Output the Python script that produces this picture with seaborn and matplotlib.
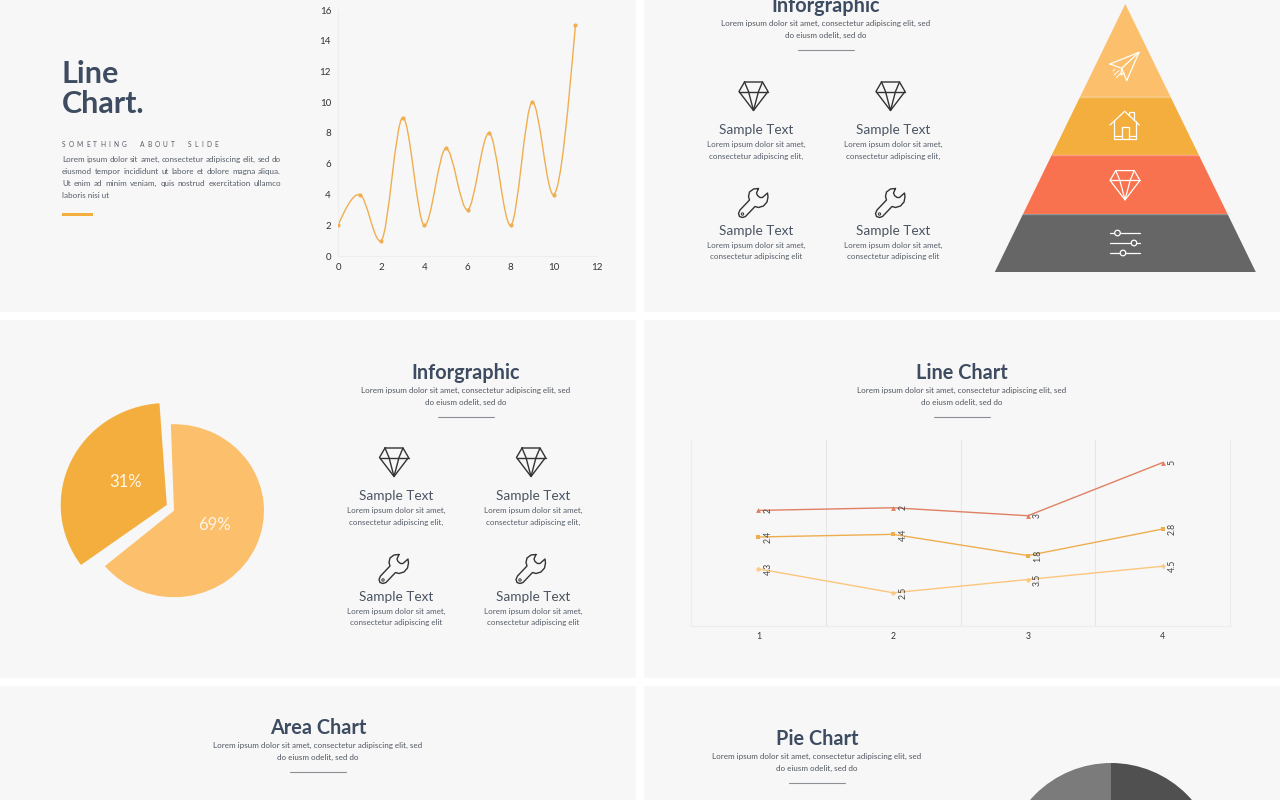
#!/usr/bin/env python3
# -*- coding: utf-8 -*-
"""
Slide template contact sheet: line charts, pie charts and infographic panels
"""

import numpy as np
import pandas as pd
import matplotlib
matplotlib.use('Agg')
import matplotlib.pyplot as plt
from matplotlib.path import Path
from matplotlib.patches import PathPatch, Rectangle, Polygon, Circle
import seaborn as sns

# Data
smooth_x = [0, 1, 2, 3, 4, 5, 6, 7, 8, 9, 10, 11]
smooth_y = [2, 4, 1, 9, 2, 7, 3, 8, 2, 10, 4, 15]

stack_cats = [1, 2, 3, 4]
stack_a = [4.3, 2.5, 3.5, 4.5]
stack_b = [2.4, 4.4, 1.8, 2.8]
stack_c = [2, 2, 3, 5]

# slice shares as drawn in the picture; the printed labels differ from them
pie_main_share = 64.5
pie_side_share = 33.9
pie_labels = ['69%', '31%']
bottom_pie_values = [50, 50]

LOREM_TOP = 'Lorem ipsum dolor sit amet, consectetur adipiscing elit, sed'
LOREM_BOT = 'do eiusm odelit, sed do'
PARAGRAPH = ['Lorem ipsum dolor sit amet, consectetur adipiscing elit, sed do',
             'eiusmod tempor incididunt ut labore et dolore magna aliqua.',
             'Ut enim ad minim veniam, quis nostrud exercitation ullamco',
             'laboris nisi ut']

# Colours
BG = '#f7f7f7'
NAVY = '#3e4c61'
TEXT = '#555c68'
LIGHT = '#fcbf6b'
ORANGE = '#f4ae3e'
RED = '#f8724f'
GREY = '#666666'
BODY = 5.8

sns.set_theme(style='white')
plt.rcParams['font.family'] = ['Lato', 'DejaVu Sans']

fig = plt.figure(figsize=(12.8, 8), dpi=100, facecolor='white')

# Canvas in pixel coordinates for the slide furniture
canvas = fig.add_axes([0, 0, 1, 1])
canvas.set_xlim(0, 1280)
canvas.set_ylim(800, 0)
canvas.axis('off')


def px_axes(x0, y0, x1, y1):
    """Axes placed by pixel corners (y measured from the top)"""
    ax = fig.add_axes([x0 / 1280, 1 - y1 / 800, (x1 - x0) / 1280, (y1 - y0) / 800])
    ax.patch.set_alpha(0)
    return ax


def txt(x, y, s, size=BODY, color=TEXT, ha='center', weight='normal', va='center', **kw):
    return canvas.text(x, y, s, fontsize=size, color=color, ha=ha, va=va,
                       fontweight=weight, **kw)


def justified(x0, x1, y, line, size=BODY):
    """Spread the words of a line between two x positions"""
    words = line.split()
    renderer = fig.canvas.get_renderer()
    items = [txt(x0, y + 3, w, size=size, ha='left', va='baseline') for w in words]
    widths = [t.get_window_extent(renderer).width for t in items]
    gap = (x1 - x0 - sum(widths)) / (len(words) - 1)
    x = x0
    for t, w in zip(items, widths):
        t.set_x(x)
        x += w + gap


def tracked(x0, x1, y, line, size, color):
    """Letter-spaced line between two x positions"""
    renderer = fig.canvas.get_renderer()
    items = [txt(x0, y, c, size=size, ha='left', color=color, va='baseline') for c in line]
    widths = [t.get_window_extent(renderer).width if c != ' ' else 2.0
              for t, c in zip(items, line)]
    gap = (x1 - x0 - sum(widths)) / (len(line) - 1)
    x = x0
    for t, w in zip(items, widths):
        t.set_x(x)
        x += w + gap


def draw(points, color, lw=1.0, closed=False):
    pts = np.array(points, dtype=float)
    if closed:
        pts = np.vstack([pts, pts[0]])
    canvas.plot(pts[:, 0], pts[:, 1], color=color, lw=lw, solid_joinstyle='round',
                solid_capstyle='round')


def diamond(cx, cy, color, k=1.0, lw=1.0):
    p = lambda x, y: (cx + x * k, cy + y * k)
    draw([p(-9, -14), p(9, -14), p(14.5, -4.5), p(0, 14.5), p(-14.5, -4.5)], color, lw, True)
    draw([p(-14.5, -4.5), p(14.5, -4.5)], color, lw)
    draw([p(-9, -14), p(-5, -4.5), p(0, 14.5), p(5, -4.5), p(9, -14)], color, lw)


def wrench(cx, cy, color='#333333', lw=1.0):
    shape = [(5, -14.5), (0, -14), (-4, -11), (-5, -6.5), (-4, -3), (-13.5, 7), (-15, 10.5),
             (-14, 13.5), (-11, 14.5), (-8, 13.5), (1.5, 3.5), (5, 4.5), (10, 3), (13.5, -1),
             (14.5, -6), (14, -10), (9, -5.5), (6.5, -5.5), (4, -7.5), (3, -10)]
    draw([(cx + x, cy + y) for x, y in shape], color, lw, True)
    canvas.add_patch(Circle((cx - 11, cy + 11), 1.2, fill=False, ec=color, lw=0.7))


def heading(cx, y, title, size=14.3):
    txt(cx, y + 1, title, size=size, color=NAVY, weight='bold')
    txt(cx, y + 18, LOREM_TOP, color='#50565f')
    txt(cx, y + 30, LOREM_BOT, color='#50565f')
    canvas.plot([cx - 28, cx + 28], [y + 45, y + 45], color='#8a8f96', lw=0.8)


def feature_grid(col_text, col_icon, title_rows, dia_y, wr_y):
    for tx, ix in zip(col_text, col_icon):
        diamond(ix, dia_y, '#333333')
        wrench(ix, wr_y)
        for ty, end in zip(title_rows, ['elit,', 'elit']):
            txt(tx, ty + 1, 'Sample Text', size=9.8, color='#4b5563')
            txt(tx, ty + 15, 'Lorem ipsum dolor sit amet,')
            txt(tx, ty + 27, 'consectetur adipiscing ' + end)


# Slide panels
for x, y, w, h in [(0, 0, 636, 312), (644, 0, 636, 312), (0, 320, 636, 358),
                   (644, 320, 636, 358), (0, 686, 636, 114), (644, 686, 636, 114)]:
    canvas.add_patch(Rectangle((x, y), w, h, fc=BG, ec='none', zorder=0))

# Slide 1: text block
txt(61, 74, 'Line', size=22, color=NAVY, ha='left', weight='bold')
txt(62, 104, 'Chart.', size=22, color=NAVY, ha='left', weight='bold')
tracked(62, 218, 147, 'SOMETHING  ABOUT  SLIDE', 4.8, '#555b66')
for i, line in enumerate(PARAGRAPH[:3]):
    justified(62, 281, 159 + 12 * i, line)
txt(62, 195, PARAGRAPH[3], ha='left')
canvas.add_patch(Rectangle((62, 212.5), 31, 3, fc=ORANGE, ec='none'))

# Slide 1: smooth line chart
ax1 = px_axes(338, 10, 597, 256)
sns.scatterplot(x=smooth_x, y=smooth_y, color='#f0ae50', s=9, linewidth=0, ax=ax1, zorder=3)
# cubic segments through the points, with flattened tangents from the neighbouring values
xs = np.array(smooth_x, dtype=float)
ys = np.array(smooth_y, dtype=float)
slopes = np.gradient(ys, xs) * 0.35
slopes[0] = 1.5 * (ys[1] - ys[0]) - 0.5 * slopes[1]
slopes[-1] = 1.5 * (ys[-1] - ys[-2]) - 0.5 * slopes[-2]
verts = [(xs[0], ys[0])]
codes = [Path.MOVETO]
for i in range(len(xs) - 1):
    dx = (xs[i + 1] - xs[i]) / 3
    verts += [(xs[i] + dx, ys[i] + slopes[i] * dx),
              (xs[i + 1] - dx, ys[i + 1] - slopes[i + 1] * dx),
              (xs[i + 1], ys[i + 1])]
    codes += [Path.CURVE4] * 3
ax1.add_patch(PathPatch(Path(verts, codes), fill=False, ec='#f0ae50', lw=1.0))
ax1.set_xlim(0, 12)
ax1.set_ylim(0, 16)
ax1.set_xticks(range(0, 13, 2))
ax1.set_yticks(range(0, 17, 2))
ax1.tick_params(labelsize=7, colors='#333333', length=0, pad=5)
sns.despine(ax=ax1)
for side in ['left', 'bottom']:
    ax1.spines[side].set_color('#eeeeee')
    ax1.spines[side].set_linewidth(0.8)

# Slide 2: features and pyramid
heading(826, 5, 'Inforgraphic')
feature_grid([756, 893], [753.5, 890.5], [129, 230], 96, 203)

apex_x, apex_y, base_y, half = 1125.3, 4, 272, 130.5
bands = [(4, 96.7, LIGHT), (96.7, 155, ORANGE), (155, 214, RED), (214, 272, GREY)]
for top, bot, col in bands:
    t = (top - apex_y) / (base_y - apex_y) * half
    b = (bot - apex_y) / (base_y - apex_y) * half
    canvas.add_patch(Polygon([(apex_x - t, top), (apex_x + t, top), (apex_x + b, bot),
                              (apex_x - b, bot)], fc=col, ec='none'))
    if top > 4:
        canvas.plot([apex_x - t, apex_x + t], [top, top], color='white', alpha=0.3, lw=1)

# plane
draw([(1110, 64), (1139, 52.3), (1126.7, 80.7), (1121.7, 68.3)], 'white', 0.9, True)
draw([(1121.7, 68.3), (1139, 52.3)], 'white', 0.9)
draw([(1121.7, 68.3), (1121, 75), (1124, 73)], 'white', 0.9)
for seg in [[(1114, 75), (1119, 70.5)], [(1116.5, 77.5), (1121, 73)], [(1113, 71), (1115, 69)]]:
    draw(seg, 'white', 0.7)
# house
draw([(1110, 125), (1124.7, 111.3), (1139.3, 125)], 'white', 0.9)
draw([(1114.3, 120.5), (1114.3, 139.3), (1135.7, 139.3), (1135.7, 120.5)], 'white', 0.9)
draw([(1114.3, 136), (1121.7, 136)], 'white', 0.9)
draw([(1129, 136), (1135.7, 136)], 'white', 0.9)
draw([(1121.7, 139), (1121.7, 127.3), (1129, 127.3), (1129, 139)], 'white', 0.9)
draw([(1129.3, 115), (1129.3, 112.3), (1134, 112.3), (1134, 119.5)], 'white', 0.9)
# diamond
diamond(1125, 185, 'white', k=1.03, lw=0.9)
# sliders
for y, kx in [(233, 1117.5), (243, 1134), (253, 1123)]:
    canvas.plot([1110, 1140], [y, y], color='white', lw=0.9)
    canvas.add_patch(Circle((kx, y), 2.8, fc=GREY, ec='white', lw=0.9, zorder=5))

# Slide 3: exploded pie, stretched a little sideways like the sheet itself
stretch = 1.04
no_edge = {'linewidth': 0, 'edgecolor': 'none'}
ax3 = px_axes(40, 390, 300, 620)
ax3.pie([pie_main_share, 100 - pie_main_share], colors=[LIGHT, 'none'], radius=86.5,
        center=(174 / stretch, -510.7), startangle=92, counterclock=False, wedgeprops=no_edge)
ax3.pie([pie_side_share, 100 - pie_side_share], colors=[ORANGE, 'none'], radius=102,
        center=(166.8 / stretch, -505), startangle=-144, counterclock=False, wedgeprops=no_edge)
ax3.set_aspect('auto')
ax3.set_xlim(40 / stretch, 300 / stretch)
ax3.set_ylim(-620, -390)
ax3.text(214 / stretch, -525, pie_labels[0], color='#fff6e6', fontsize=12, ha='center', va='center')
ax3.text(126 / stretch, -482, pie_labels[1], color='#fff6e6', fontsize=12, ha='center', va='center')

heading(466, 372, 'Inforgraphic')
feature_grid([396, 533], [394, 531], [495, 596], 462, 569)

# Slide 4: stacked line chart
heading(962, 372, 'Line Chart')
ax4 = px_axes(691, 440, 1230, 626)
stack_vals = [stack_a, stack_b, stack_c]
stack_tops = np.cumsum(stack_vals, axis=0)
series_names = ['A', 'B', 'C']
line_cols = {'A': '#fbc67d', 'B': '#eeae50', 'C': '#e08063'}
df = pd.DataFrame({
    'cat': stack_cats * 3,
    'top': stack_tops.ravel(),
    'series': np.repeat(series_names, len(stack_cats)),
})
sns.lineplot(data=df, x='cat', y='top', hue='series', style='series', palette=line_cols,
             markers={'A': 'P', 'B': 's', 'C': '^'}, dashes=False, markersize=3.5,
             markeredgewidth=0, linewidth=1.0, legend=False, ax=ax4)
for vals, tops in zip(stack_vals, stack_tops):
    for cat, v, top in zip(stack_cats, vals, tops):
        ax4.annotate(str(v), (cat, top), xytext=(7, 0), textcoords='offset points',
                     rotation=90, fontsize=6.3, color='#444444', ha='center', va='center')
ax4.set_xlim(0.5, 4.5)
ax4.set_ylim(0, 14)
ax4.set_xticks(stack_cats)
ax4.set_yticks([])
ax4.set_xlabel('')
ax4.set_ylabel('')
ax4.tick_params(axis='x', labelsize=6.3, colors='#333333', length=0, pad=4)
for edge in [1.5, 2.5, 3.5]:
    ax4.axvline(edge, color='#e6e6e6', lw=0.8, zorder=0)
ax4.spines['top'].set_visible(False)
for side in ['left', 'right', 'bottom']:
    ax4.spines[side].set_color('#ececec')
    ax4.spines[side].set_linewidth(0.8)

# Slide 5 and 6: cut off at the bottom of the sheet
heading(318, 727, 'Area Chart')
heading(817, 738, 'Pie Chart')
ax6 = px_axes(1000, 750, 1222, 972)
ax6.pie(bottom_pie_values, colors=['#505050', '#7b7b7b'], radius=107, center=(1111, -870),
        startangle=90, counterclock=False, wedgeprops=no_edge)
ax6.set_aspect('auto')
ax6.set_xlim(1000, 1222)
ax6.set_ylim(-972, -750)

plt.savefig('out.png', dpi=100, facecolor='white')
